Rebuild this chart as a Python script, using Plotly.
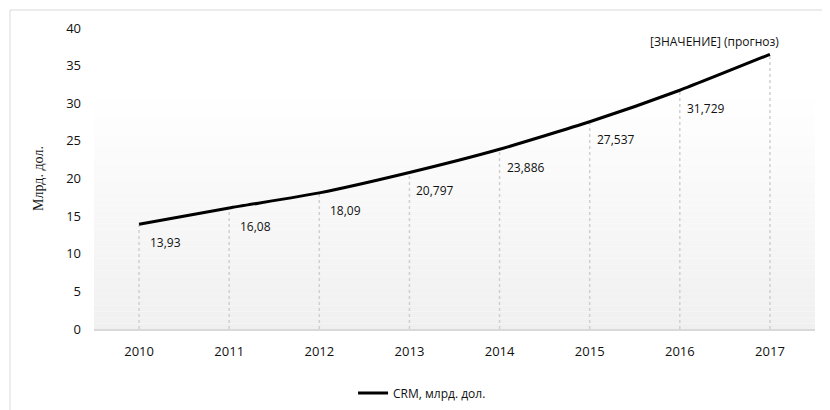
import plotly.graph_objects as go

years = [2010, 2011, 2012, 2013, 2014, 2015, 2016, 2017]
values = [13.93, 16.08, 18.09, 20.797, 23.886, 27.537, 31.729, 36.5]
labels = ["13,93", "16,08", "18,09", "20,797", "23,886", "27,537", "31,729", "[ЗНАЧЕНИЕ] (прогноз)"]
series_name = "CRM, млрд. дол."
y_title = "Млрд. дол."
y_ticks = [0, 5, 10, 15, 20, 25, 30, 35, 40]

fig = go.Figure()

# drop lines from data
dx, dy = [], []
for yr, v in zip(years, values):
    dx += [yr, yr, None]
    dy += [0, v, None]
fig.add_trace(go.Scatter(x=dx, y=dy, mode="lines", showlegend=False, hoverinfo="skip",
                         line=dict(color="#d0d0d0", width=1.5, dash="dot")))

fig.add_trace(go.Scatter(x=years, y=values, mode="lines", name=series_name,
                         line=dict(color="black", width=3, shape="spline", smoothing=0.5)))

# labels
for i, (yr, v, lab) in enumerate(zip(years, values, labels)):
    if i == len(years) - 1:
        fig.add_annotation(x=yr, y=v, text=lab, showarrow=False, xshift=-55, yshift=13,
                           font=dict(family="Open Sans", size=12, color="#111"))
    else:
        fig.add_annotation(x=yr, y=v, text=lab, showarrow=False, xshift=26, yshift=-18,
                           font=dict(family="Open Sans", size=12, color="#111"))

# gradient background
n = 40
top_start = 0.78
for k in range(n):
    y0 = k / n * top_start
    y1 = (k + 1) / n * top_start
    t = 1 - (k + 0.5) / n
    c = int(round(255 - 15 * t))
    fig.add_shape(type="rect", xref="paper", yref="paper", x0=0, x1=1, y0=y0, y1=y1,
                  fillcolor=f"rgb({c},{c},{c})", line=dict(width=0), layer="below")

# outer border
fig.add_shape(type="rect", xref="paper", yref="paper", x0=-0.1165, x1=1.019, y0=-0.3, y1=1.0598,
              line=dict(color="#d9d9d9", width=1), layer="below")

fig.update_layout(
    width=830, height=410,
    margin=dict(l=86, r=23, t=20, b=89, autoexpand=False),
    paper_bgcolor="white", plot_bgcolor="rgba(0,0,0,0)",
    font=dict(family="Open Sans", size=12, color="#111"),
    showlegend=True,
    legend=dict(orientation="h", x=0.455, xanchor="center", y=-0.213, yanchor="middle",
                font=dict(family="Open Sans", size=12, color="#111"), itemwidth=30),
    xaxis=dict(range=[years[0] - 0.5, years[-1] + 0.5], tickvals=years, showgrid=False,
               showline=True, linecolor="#d9d9d9", linewidth=2, automargin=False,
               ticks="", tickfont=dict(size=13), zeroline=False, ticklabelstandoff=9),
    yaxis=dict(range=[0, 40], tickvals=y_ticks, showgrid=False, showline=False, zeroline=False,
               ticks="", tickfont=dict(size=13), ticklabelstandoff=12, automargin=False,
               title=dict(text=y_title, font=dict(family="Liberation Serif", size=14), standoff=19)),
)

fig.write_html("out.html")
